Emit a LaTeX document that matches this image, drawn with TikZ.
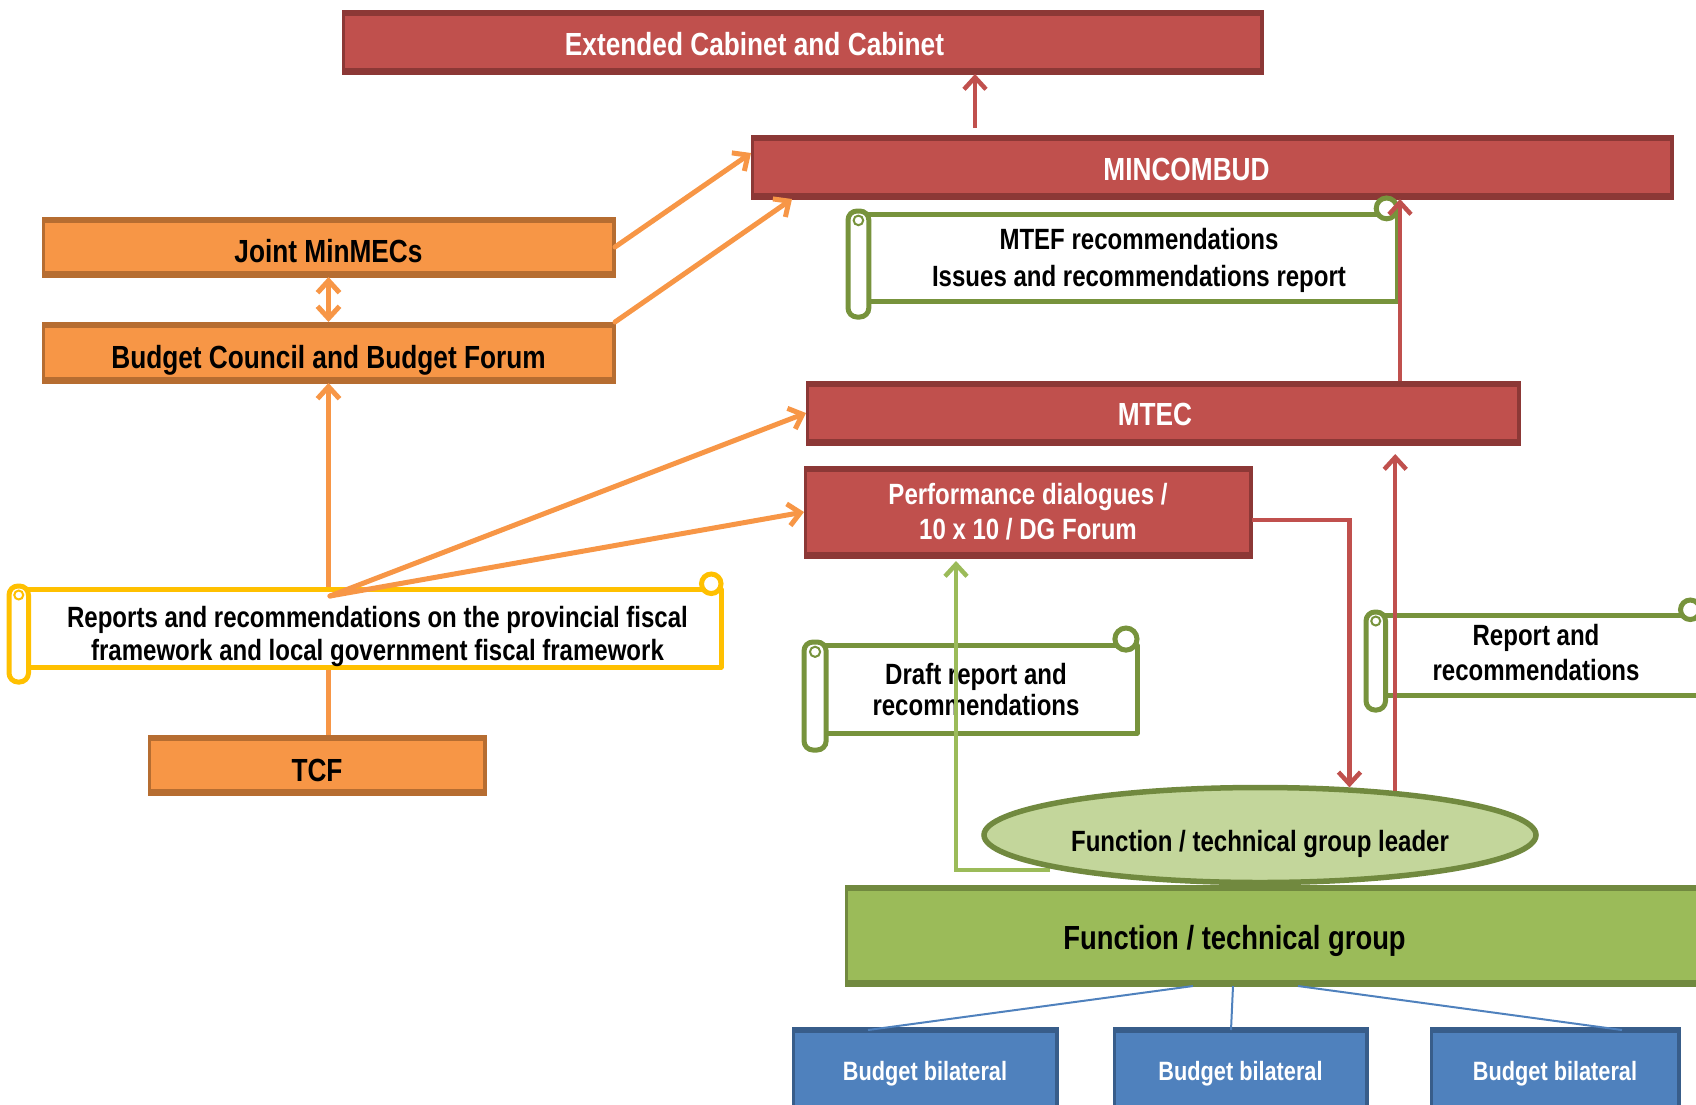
\documentclass[tikz,border=0pt]{standalone}
\usepackage{fontspec}
\setmainfont{Liberation Sans}[FakeStretch=0.82]
\usetikzlibrary{arrows.meta,shapes.geometric,calc}
\definecolor{redF}{HTML}{C0504D}
\definecolor{redD}{HTML}{8C3836}
\definecolor{orF}{HTML}{F79646}
\definecolor{orD}{HTML}{B66D31}
\definecolor{grF}{HTML}{9BBB59}
\definecolor{grD}{HTML}{71893F}
\definecolor{grL}{HTML}{C3D69B}
\definecolor{blF}{HTML}{4F81BD}
\definecolor{blD}{HTML}{385D8A}
\definecolor{yel}{HTML}{FFC000}
\definecolor{scrG}{HTML}{77933C}
\tikzset{
  bandbox/.style 2 args={rectangle, inner sep=0pt, outer sep=0pt, fill=#2, draw=#2, line width=1pt,
    path picture={\fill[#1] ([xshift=3pt,yshift=-6pt]path picture bounding box.north west) rectangle ([xshift=-3pt,yshift=6pt]path picture bounding box.south east);}},
  th/.style={text height=#1, text depth=0pt},
  bigtxt/.style={font=\bfseries\fontsize{32}{36}\selectfont},
  midtxt/.style={font=\bfseries\fontsize{29.3}{35}\selectfont, align=center},
  redbox/.style={bandbox={redF}{redD}, text=white, bigtxt},
  orbox/.style={bandbox={orF}{orD}, text=black, bigtxt},
  bluebox/.style={bandbox={blF}{blD}, text=white, font=\bfseries\fontsize{26.5}{30}\selectfont, minimum height=88pt, th=19pt},
  scrtxt/.style={midtxt, inner sep=0pt, text=black},
  arr/.style={-{Straight Barb[length=12pt,width=22pt]}},
  orline/.style={draw=orF, line width=5pt, line cap=round},
  redline/.style={draw=redF, line width=4.5pt},
  grline/.style={draw=grF, line width=4.5pt},
  blline/.style={draw=blF, line width=2pt},
}
% L T R B r color
\newcommand\hscroll[6]{%
  \filldraw[draw=#6, fill=white, line width=5pt, line join=round]
    ({#1+#5},{#2+#5}) -- ({#3},{#2+#5}) -- ({#3},{#4-#5}) -- ({#1+#5},{#4-#5}) -- cycle;
  \filldraw[draw=#6, fill=white, line width=5pt]
    ({#3-0.65*#5},{#2+0.65*#5}) circle[radius={0.65*#5}];
  \filldraw[draw=#6, fill=white, line width=5pt, rounded corners=9pt]
    (#1,{#2+#5-3}) rectangle ({#1+1.3*#5},#4);
  \draw[draw=#6, line width=2pt] ({#1+0.65*#5},{#2+1.4*#5}) circle[radius={0.3*#5}];
}
\begin{document}
\begin{tikzpicture}[x=1pt,y=-1pt]
\useasboundingbox (0,0) rectangle (1696,1104);
\clip (0,0) rectangle (1696,1104);

% ---- boxes
\node[redbox, th=27pt, minimum width=921pt, minimum height=64pt] (ext) at (802.5,42) {\hspace*{-96pt}Extended Cabinet and Cabinet};
\node[redbox, th=27pt, minimum width=922pt, minimum height=64pt] (mincom) at (1212,167) {\hspace*{-51pt}MINCOMBUD};
\node[orbox, th=31pt, minimum width=573pt, minimum height=60pt] (jm) at (328.5,247) {Joint MinMECs};
\node[orbox, th=32pt, minimum width=573pt, minimum height=61pt] (bc) at (328.5,352.5) {Budget Council and Budget Forum};
\node[redbox, th=25pt, minimum width=714pt, minimum height=64pt] (mtec) at (1163,413) {\hspace*{-16pt}MTEC};
\node[redbox, midtxt, text=white, minimum width=448pt, minimum height=92pt] (perf) at (1028,512) {Performance dialogues /\\10 x 10 / DG Forum};
\node[orbox, th=33pt, minimum width=338pt, minimum height=60pt] (tcf) at (317,765) {TCF};
\node[bandbox={grF}{grD}, font=\bfseries\fontsize{33.4}{38}\selectfont, th=27pt, minimum width=855pt, minimum height=101pt] (grp) at (1272.5,935.5) {\hspace*{-76pt}Function / technical group};
\node[bluebox, minimum width=266pt] (bb1) at (925,1071) {Budget bilateral};
\node[bluebox, minimum width=255pt] (bb2) at (1240.5,1071) {Budget bilateral};
\node[bluebox, minimum width=250pt] (bb3) at (1555,1071) {Budget bilateral};

% ---- orange connectors
\draw[orline, line cap=butt, arr] (tcf.north -| bc.south) -- (bc.south);
\hscroll{9}{574}{721}{682}{15}{yel}
\node[scrtxt, font=\bfseries\fontsize{29.3}{33}\selectfont] (rep) at (377.5,636.5) {Reports and recommendations on the provincial fiscal\\framework and local government fiscal framework};
\coordinate (hub) at (330,596);
\draw[orline, arr] (hub) -- (mtec.west);
\draw[orline, arr] (hub) -- (perf.west);
\draw[orline, arr] (jm.east) -- ([yshift=-18pt]mincom.north west);
\draw[orline, arr] (bc.north east) -- ([xshift=41pt]mincom.south west);
\draw[orline, line cap=butt, {Straight Barb[length=12pt,width=22pt]}-{Straight Barb[length=12pt,width=22pt]}] (jm.south) -- (bc.north);

% ---- scrolls
\hscroll{848}{198}{1397}{317}{16}{scrG}
\node[scrtxt, font=\bfseries\fontsize{29.3}{37}\selectfont] (mtef) at (1139,260) {MTEF recommendations\\Issues and recommendations report};
\hscroll{804}{628}{1137}{750}{17}{scrG}
\node[scrtxt, font=\bfseries\fontsize{29.3}{31}\selectfont] (draft) at (976,689.5) {Draft report and\\recommendations};
\hscroll{1366}{600}{1700}{710}{15}{scrG}
\node[scrtxt, font=\bfseries\fontsize{29.3}{35}\selectfont] (repand) at (1536,652.5) {Report and\\recommendations};

% ---- red connectors
\draw[redline, arr] ([yshift=7pt]mincom.north -| 975,0) -- (ext.south -| 975,0);
\draw[redline, arr] (mtec.north -| 1400,0) -- (mincom.south -| 1400,0);

% ---- ellipse
\coordinate (gl) at (1050,870);
\draw[grline, arr] (gl) -- (956,870) -- ([yshift=-3pt]perf.south -| 956,0);
\node[ellipse, fill=grL, draw=grD, line width=5.5pt, minimum width=552pt, minimum height=95pt, inner sep=0pt,
      font=\bfseries\fontsize{29.3}{35}\selectfont, th=32pt] (leader) at (1260,835) {Function / technical group leader};
\draw[redline, arr] ([yshift=-8pt]perf.east) -| (leader.28);
\draw[redline, arr] (leader.18) -- ([yshift=-9pt]leader.18 |- mtec.south);

% ---- blue connectors
\draw[blline] (grp.south -| 1193,0) -- ([yshift=-3pt]bb1.north -| 868,0);
\draw[blline] (grp.south -| 1233,0) -- ([yshift=-3pt]bb2.north -| 1231,0);
\draw[blline] (grp.south -| 1298,0) -- ([yshift=-3pt]bb3.north -| 1622,0);
\end{tikzpicture}
\end{document}
